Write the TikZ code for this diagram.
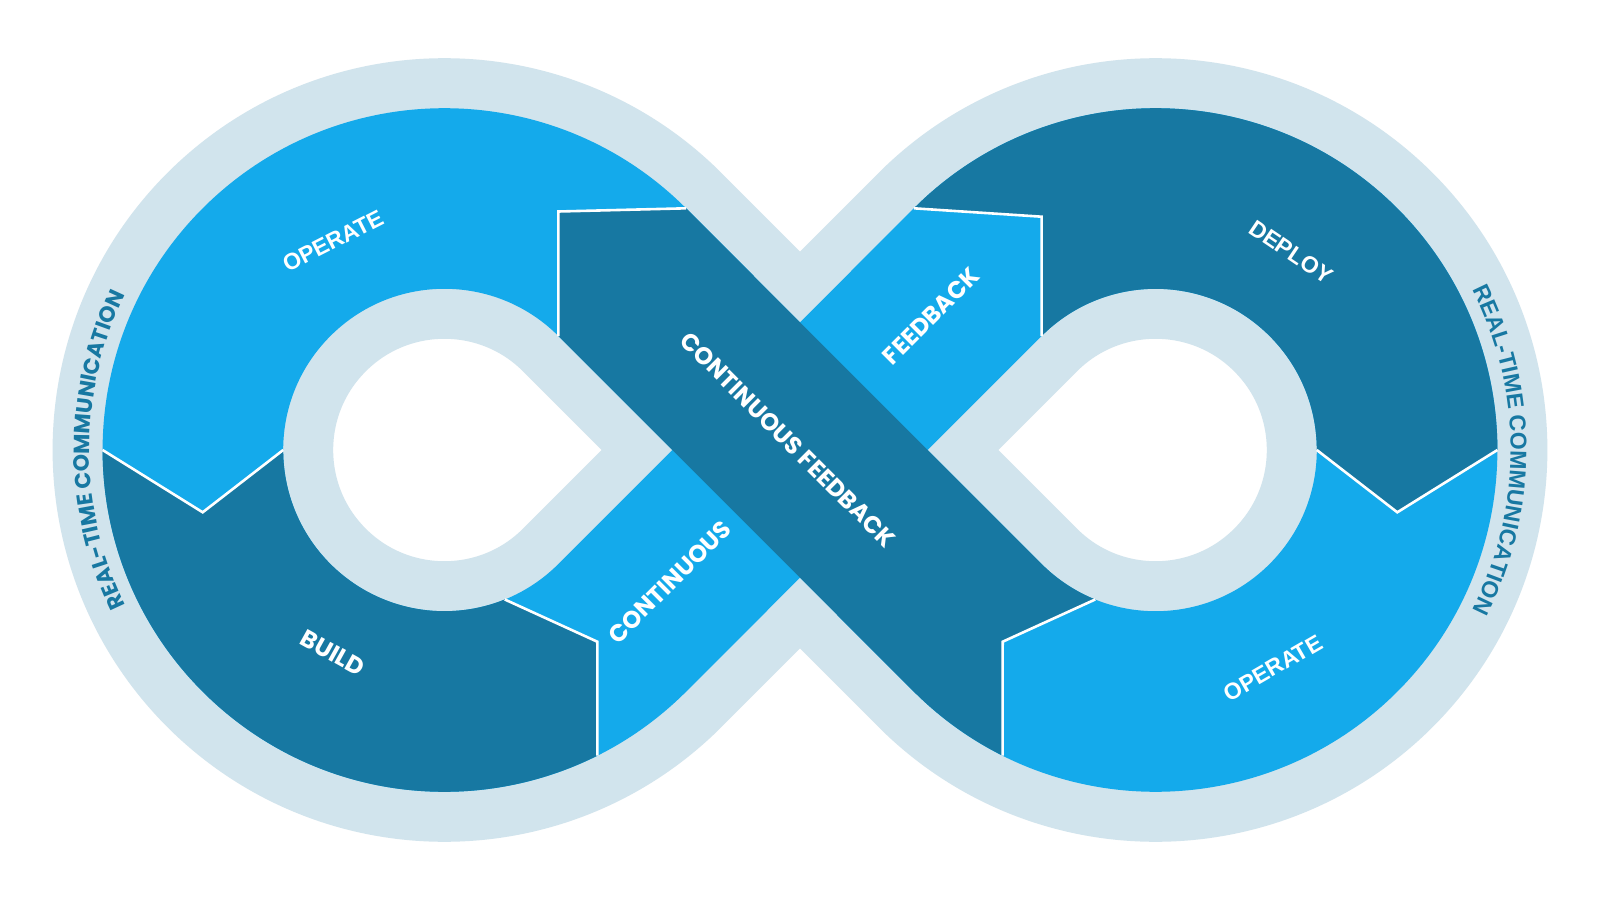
\documentclass[tikz,border=0pt]{standalone}
\usepackage{fontspec}
\usetikzlibrary{calc,decorations.text}
\newfontfamily\geo{Poppins}
\newfontfamily\ari{Liberation Sans}
\definecolor{lightband}{HTML}{D1E4ED}
\definecolor{bright}{HTML}{14AAEB}
\definecolor{dark}{HTML}{1778A2}
\begin{document}
\begin{tikzpicture}[x=1pt,y=1pt,
  seg/.style={line width=2.6pt, white, line join=miter},
  lbl/.style={text=white, inner sep=0pt, font=\ari\bfseries\fontsize{23}{23}\selectfont},
  glbl/.style={text=white, inner sep=0pt, font=\geo\bfseries\fontsize{24}{24}\selectfont}]
\fill[white] (-800,-450) rectangle (800,450);
\path[use as bounding box] (-800,-450) rectangle (800,450);
\coordinate (L) at (-355.6,0);
\coordinate (R) at (355.6,0);
% key points
\coordinate (vL) at (-597.3,-62.3);
\coordinate (vR) at (597.3,-62.3);
\coordinate (vTL) at (-241.6,238.5);
\coordinate (vTR) at (241.6,233.3);
\coordinate (vBL) at (-202.7,-191.7);
\coordinate (vBR) at (202.7,-191.7);
% light outer band
\draw[lightband, line width=280.6pt] (0,0) -- ($(L)+(45:251.5)$) arc[start angle=45,end angle=315,radius=251.5]
  -- ($(R)+(135:251.5)$) arc[start angle=135,end angle=-135,radius=251.5] -- cycle;
% bright base band
\draw[bright, line width=180.6pt] (0,0) -- ($(L)+(45:251.5)$) arc[start angle=45,end angle=315,radius=251.5]
  -- ($(R)+(135:251.5)$) arc[start angle=135,end angle=-135,radius=251.5] -- cycle;
% BUILD
\fill[dark] ($(L)+(180:341.8)$) arc[start angle=180,end angle=296.6,radius=341.8] -- (vBL)
  -- ($(L)+(292:161.2)$) arc[start angle=292,end angle=180,radius=161.2] -- (vL) -- cycle;
% DEPLOY
\fill[dark] ($(R)+(135:341.8)$) arc[start angle=135,end angle=0,radius=341.8] -- (vR)
  -- ($(R)+(0:161.2)$) arc[start angle=0,end angle=135,radius=161.2] -- (vTR) -- cycle;
% CONTINUOUS FEEDBACK diagonal
\fill[dark] (vTL) -- ($(L)+(45:341.8)$) -- ($(R)+(225:161.2)$) arc[start angle=225,end angle=248,radius=161.2]
  -- (vBR) -- ($(R)+(243.4:341.8)$) arc[start angle=243.4,end angle=225,radius=341.8]
  -- ($(L)+(45:161.2)$) -- cycle;
% separators
\draw[seg] ($(L)+(180:341.8)$) -- (vL) -- ($(L)+(180:161.2)$);
\draw[seg] ($(R)+(0:341.8)$) -- (vR) -- ($(R)+(0:161.2)$);
\draw[seg] ($(L)+(45:341.8)$) -- (vTL) -- ($(L)+(45:161.2)$);
\draw[seg] ($(R)+(135:341.8)$) -- (vTR) -- ($(R)+(135:161.2)$);
\draw[seg] ($(L)+(296.6:341.8)$) -- (vBL) -- ($(L)+(292:161.2)$);
\draw[seg] ($(R)+(243.4:341.8)$) -- (vBR) -- ($(R)+(248:161.2)$);
% labels
\node[lbl, rotate=27] (opl) at (-467,209) {OPERATE};
\node[lbl, rotate=-34] (dep) at (491,198) {DEPLOY};
\node[lbl, rotate=30] (opr) at (473,-218) {OPERATE};
\node[glbl, rotate=-29] (bld) at (-467,-203) {BUILD};
\node[glbl, rotate=45] (con) at (-130,-132) {CONTINUOUS};
\node[glbl, rotate=45] (fdb) at (131,134) {FEEDBACK};
\node[glbl, rotate=-45] (cf) at (-12,10) {CONTINUOUS FEEDBACK};
% curved texts
\path[decorate, decoration={text along path, text align=center, text color=dark,
  text={|\geo\bfseries\fontsize{22}{22}\selectfont|REAL-TIME COMMUNICATION}}]
  ($(L)+(220:355)$) arc[start angle=220,end angle=140,radius=355];
\path[decorate, decoration={text along path, text align=center, text color=dark,
  text={|\ari\bfseries\fontsize{23}{23}\selectfont|REAL-TIME COMMUNICATION}}]
  ($(R)+(40:355)$) arc[start angle=40,end angle=-40,radius=355];
\end{tikzpicture}
\end{document}
